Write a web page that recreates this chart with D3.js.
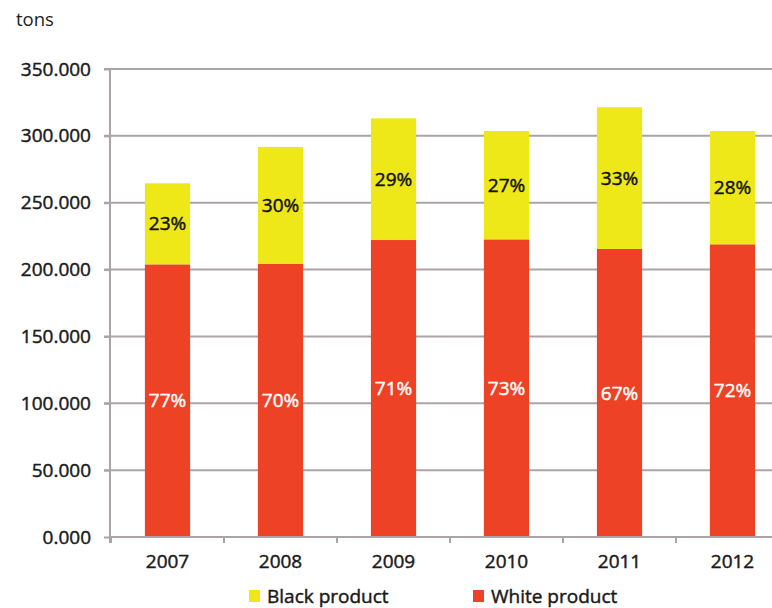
<!DOCTYPE html>
<html><head><meta charset="utf-8">
<script src="https://cdn.jsdelivr.net/npm/d3@7"></script>
<style>body{margin:0;background:#fff}svg{display:block}text{font-family:"Open Sans",sans-serif}</style>
</head><body><svg id="c" width="772" height="608"></svg>
<script>
const years = ["2007","2008","2009","2010","2011","2012"];
const whiteProduct = [203.9, 204.4, 222.1, 222.6, 215.4, 218.9];
const blackProduct = [60.6, 87.3, 91.0, 81.0, 106.0, 84.7];
const whiteLabels = ["77%","70%","71%","73%","67%","72%"];
const blackLabels = ["23%","30%","29%","27%","33%","28%"];
const yTicks = [0,50,100,150,200,250,300,350];
const yTickLabels = ["0.000","50.000","100.000","150.000","200.000","250.000","300.000","350.000"];
const seriesNames = ["Black product","White product"];
const colors = {white:"#EE4227", black:"#EEE819"};
const FS = 19;

const svg = d3.select("#c");
const x = d3.scaleBand().domain(years).range([111, 789]).paddingInner(0.6).paddingOuter(0.3);
const y = d3.scaleLinear().domain([0,350]).range([537, 69]);

function heavy(sel, col){ return sel.attr("font-size",FS).attr("fill",col).attr("stroke",col).attr("stroke-width",0.45); }

svg.append("text").attr("x",16).attr("y",26).attr("font-size",18.5).attr("fill","#222").text("tons");

// grid
svg.append("g").selectAll("line").data(yTicks.slice(1)).join("line")
  .attr("x1",104).attr("x2",772).attr("y1",d=>y(d)).attr("y2",d=>y(d))
  .attr("stroke","#aaa4a4").attr("stroke-width",2);

// y axis
const yg = svg.append("g").attr("transform","translate(110,0)").call(
  d3.axisLeft(y).tickValues(yTicks).tickSize(6).tickPadding(13).tickFormat((d,i)=>yTickLabels[i]));
yg.select(".domain").attr("stroke","#aaa4a4").attr("stroke-width",2).attr("d","M0,"+(y(350)-1)+"V"+(y(0)+6));
yg.selectAll(".tick line").attr("stroke","#aaa4a4").attr("stroke-width",2);
heavy(yg.selectAll("text"),"#1a1a1a").style("font-family","'Open Sans',sans-serif");

// bars
const g = svg.append("g");
years.forEach((yr,i)=>{
  const w = whiteProduct[i], b = blackProduct[i];
  g.append("rect").attr("x",x(yr)).attr("width",x.bandwidth())
    .attr("y",y(w)).attr("height",y(0)-y(w)).attr("fill",colors.white);
  g.append("rect").attr("x",x(yr)).attr("width",x.bandwidth())
    .attr("y",y(w+b)).attr("height",y(w)-y(w+b)).attr("fill",colors.black);
  heavy(g.append("text").attr("x",x(yr)+x.bandwidth()/2).attr("y",y(w/2)).attr("dy","0.35em")
    .attr("text-anchor","middle"),"#fff").text(whiteLabels[i]);
  heavy(g.append("text").attr("x",x(yr)+x.bandwidth()/2).attr("y",y(w+b/2)).attr("dy","0.35em")
    .attr("text-anchor","middle"),"#111").text(blackLabels[i]);
});

// x axis
const xg = svg.append("g").attr("transform","translate(0,537)");
xg.append("line").attr("x1",110).attr("x2",772).attr("stroke","#aaa4a4").attr("stroke-width",2);
xg.selectAll("line.t").data(years).join("line").attr("class","t")
  .attr("x1",d=>x(d)+x.bandwidth()/2-x.step()/2).attr("x2",d=>x(d)+x.bandwidth()/2-x.step()/2)
  .attr("y1",0).attr("y2",6).attr("stroke","#aaa4a4").attr("stroke-width",2);
heavy(xg.selectAll("text").data(years).join("text")
  .attr("x",d=>x(d)+x.bandwidth()/2).attr("y",31).attr("text-anchor","middle"),"#1a1a1a").text(d=>d);

// legend
const leg = svg.append("g");
const legX = [249, 473];
const legC = [colors.black, colors.white];
seriesNames.forEach((n,i)=>{
  leg.append("rect").attr("x",legX[i]).attr("y",590).attr("width",11).attr("height",12).attr("fill",legC[i]);
  heavy(leg.append("text").attr("x",legX[i]+18).attr("y",603),"#1a1a1a").text(n);
});
</script></body></html>
